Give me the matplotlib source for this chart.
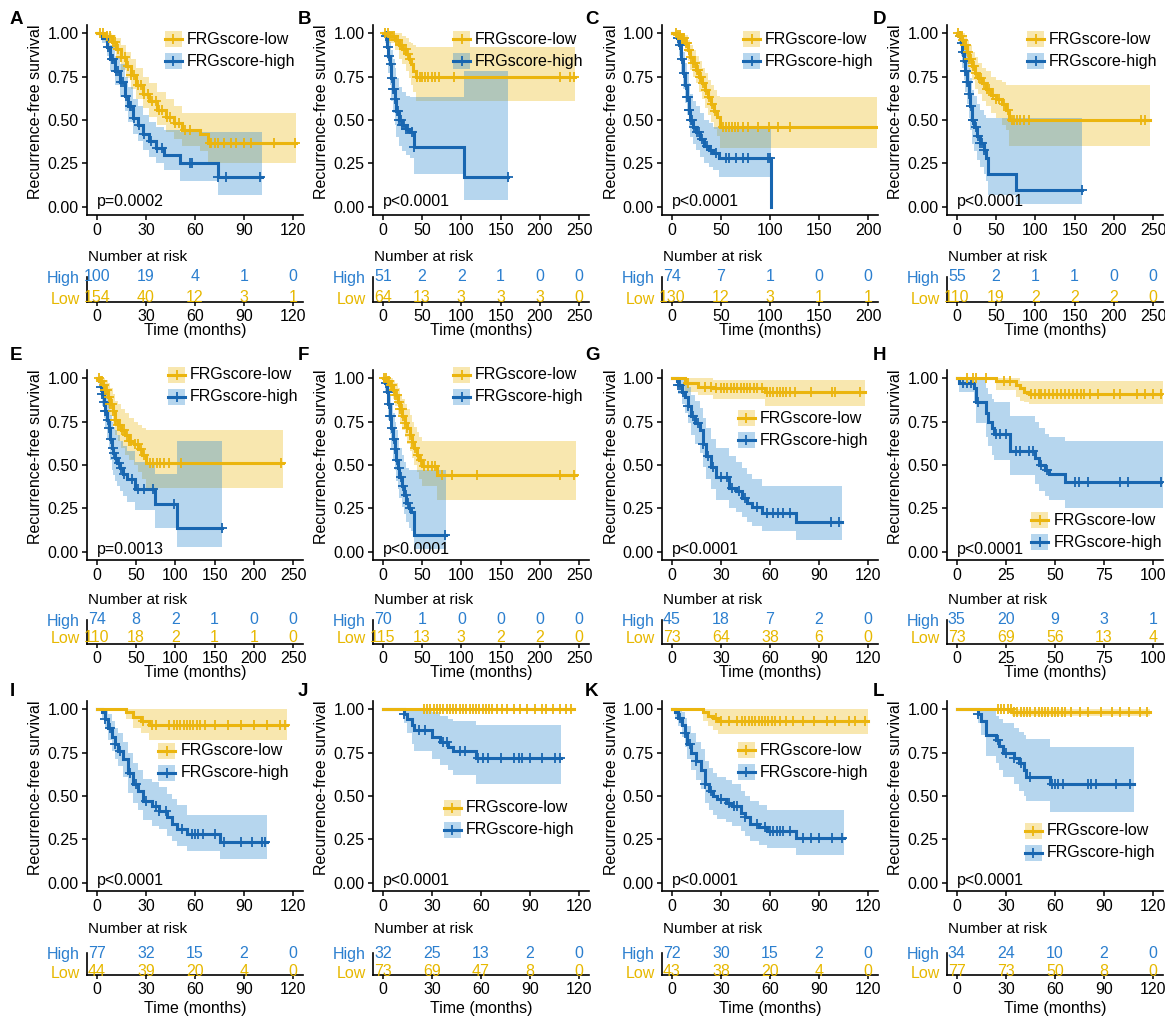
import numpy as np
import matplotlib.pyplot as plt
from matplotlib.patches import Rectangle

plt.rcParams['font.family'] = ['Liberation Sans', 'DejaVu Sans']

# ---------------- data ----------------
# panel A
A_breaks = [0, 30, 60, 90, 120]
A_low_t = [0, 5, 9, 12, 15, 18, 21, 24, 28, 32, 37, 42, 47, 52, 63, 68, 122]
A_low_s = [1.0, 0.98, 0.95, 0.91, 0.86, 0.81, 0.76, 0.70, 0.65, 0.61, 0.56, 0.52, 0.48, 0.44, 0.42, 0.365, 0.365]
A_low_hi = [1.0, 1.0, 0.99, 0.97, 0.93, 0.89, 0.85, 0.80, 0.75, 0.71, 0.66, 0.62, 0.58, 0.54, 0.54, 0.54, 0.54]
A_low_lo = [1.0, 0.95, 0.91, 0.85, 0.79, 0.74, 0.68, 0.62, 0.57, 0.52, 0.47, 0.43, 0.39, 0.35, 0.32, 0.25, 0.25]
A_low_cens = [2, 4, 6, 8, 10, 11, 13, 15, 17, 19, 21, 23, 25, 27, 29, 31, 34, 36, 38, 40, 43, 45, 48, 50,
              54, 57, 69, 70, 72, 74, 78, 82, 85, 90, 94, 108, 121]
A_high_t = [0, 3, 6, 8, 11, 14, 17, 19, 22, 25, 28, 32, 36, 41, 51, 74, 101]
A_high_s = [1.0, 0.97, 0.92, 0.85, 0.78, 0.72, 0.64, 0.58, 0.51, 0.47, 0.42, 0.38, 0.34, 0.30, 0.25, 0.17, 0.17]
A_high_hi = [1.0, 1.0, 0.98, 0.93, 0.87, 0.82, 0.75, 0.69, 0.62, 0.58, 0.53, 0.49, 0.46, 0.44, 0.43, 0.43, 0.43]
A_high_lo = [1.0, 0.94, 0.87, 0.78, 0.70, 0.63, 0.55, 0.49, 0.42, 0.38, 0.33, 0.29, 0.25, 0.21, 0.15, 0.07, 0.07]
A_high_cens = [7, 9, 10, 12, 13, 15, 16, 18, 20, 21, 23, 26, 29, 33, 37, 40, 57, 58, 74, 79, 100]
A_risk_high = [100, 19, 4, 1, 0]
A_risk_low = [154, 40, 12, 3, 1]
A_pval = 'p=0.0002'

# panel B
B_breaks = [0, 50, 100, 150, 200, 250]
B_low_t = [0, 8, 15, 20, 25, 30, 33, 36, 39, 42, 245]
B_low_s = [1.0, 0.98, 0.96, 0.93, 0.91, 0.88, 0.85, 0.82, 0.78, 0.75, 0.75]
B_low_hi = [1.0, 1.0, 1.0, 1.0, 0.98, 0.97, 0.95, 0.94, 0.93, 0.92, 0.92]
B_low_lo = [1.0, 0.94, 0.90, 0.85, 0.82, 0.78, 0.74, 0.70, 0.66, 0.61, 0.61]
B_low_cens = [3, 6, 9, 12, 14, 17, 19, 22, 24, 27, 29, 32, 35, 44, 47, 50, 54, 58, 62, 66, 72, 90, 225, 238, 244]
B_high_t = [0, 3, 5, 7, 9, 11, 13, 15, 17, 20, 24, 29, 35, 40, 103, 160]
B_high_s = [1.0, 0.98, 0.92, 0.87, 0.82, 0.74, 0.68, 0.62, 0.55, 0.50, 0.47, 0.45, 0.43, 0.345, 0.17, 0.17]
B_high_hi = [1.0, 1.0, 1.0, 0.98, 0.95, 0.90, 0.85, 0.80, 0.74, 0.69, 0.66, 0.64, 0.63, 0.63, 0.78, 0.78]
B_high_lo = [1.0, 0.94, 0.85, 0.77, 0.70, 0.61, 0.54, 0.47, 0.40, 0.35, 0.32, 0.30, 0.28, 0.19, 0.04, 0.04]
B_high_cens = [4, 6, 8, 10, 12, 13, 14, 16, 18, 19, 21, 23, 25, 27, 30, 32, 37, 40, 160]
B_risk_high = [51, 2, 2, 1, 0, 0]
B_risk_low = [64, 13, 3, 3, 3, 0]
B_pval = 'p<0.0001'

# panel C
C_breaks = [0, 50, 100, 150, 200]
C_low_t = [0, 5, 9, 13, 16, 19, 22, 25, 28, 31, 34, 37, 40, 43, 46, 49, 209]
C_low_s = [1.0, 0.99, 0.97, 0.94, 0.90, 0.86, 0.83, 0.79, 0.75, 0.71, 0.67, 0.63, 0.59, 0.55, 0.52, 0.46, 0.46]
C_low_hi = [1.0, 1.0, 1.0, 0.99, 0.96, 0.93, 0.90, 0.87, 0.84, 0.80, 0.77, 0.73, 0.70, 0.67, 0.64, 0.63, 0.63]
C_low_lo = [1.0, 0.97, 0.94, 0.89, 0.84, 0.79, 0.75, 0.71, 0.66, 0.62, 0.57, 0.53, 0.49, 0.45, 0.41, 0.34, 0.34]
C_low_cens = [4, 6, 8, 10, 11, 12, 14, 15, 17, 18, 20, 22, 24, 26, 27, 29, 30, 32, 35, 38, 41, 44, 52, 55,
              58, 61, 64, 67, 72, 78, 88, 99, 108, 120]
C_high_t = [0, 5, 7, 9, 11, 13, 15, 17, 19, 22, 25, 29, 33, 38, 42, 48, 101.5]
C_high_s = [1.0, 0.97, 0.93, 0.85, 0.77, 0.70, 0.63, 0.56, 0.50, 0.46, 0.43, 0.39, 0.35, 0.33, 0.31, 0.28, 0.0]
C_high_hi = [1.0, 1.0, 1.0, 0.95, 0.89, 0.83, 0.77, 0.71, 0.65, 0.61, 0.58, 0.54, 0.50, 0.48, 0.46, 0.45, 0.0]
C_high_lo = [1.0, 0.93, 0.87, 0.77, 0.68, 0.60, 0.53, 0.46, 0.40, 0.36, 0.33, 0.29, 0.25, 0.23, 0.21, 0.17, 0.0]
C_high_cens = [6, 8, 10, 12, 14, 15, 16, 17, 18, 20, 21, 23, 26, 28, 31, 36, 40, 45, 55, 58, 65, 72, 78, 98, 100]
C_risk_high = [74, 7, 1, 0, 0]
C_risk_low = [130, 12, 3, 1, 1]
C_pval = 'p<0.0001'

# panel D
D_breaks = [0, 50, 100, 150, 200, 250]
D_low_t = [0, 4, 7, 10, 13, 16, 19, 23, 27, 32, 37, 43, 50, 57, 62, 67, 246]
D_low_s = [1.0, 0.98, 0.96, 0.93, 0.89, 0.85, 0.81, 0.77, 0.74, 0.71, 0.68, 0.645, 0.62, 0.59, 0.56, 0.50, 0.50]
D_low_hi = [1.0, 1.0, 1.0, 0.99, 0.96, 0.93, 0.89, 0.86, 0.83, 0.80, 0.78, 0.75, 0.73, 0.72, 0.70, 0.70, 0.70]
D_low_lo = [1.0, 0.95, 0.92, 0.87, 0.82, 0.77, 0.73, 0.68, 0.65, 0.61, 0.58, 0.54, 0.51, 0.47, 0.44, 0.35, 0.35]
D_low_cens = [2, 4, 6, 8, 10, 12, 14, 16, 18, 20, 22, 25, 28, 31, 34, 38, 41, 46, 50, 54, 60, 65, 70, 73,
              77, 81, 86, 92, 235, 240]
D_high_t = [0, 3, 5, 7, 9, 11, 13, 15, 17, 19, 22, 26, 30, 34, 37, 40, 75, 160]
D_high_s = [1.0, 0.98, 0.94, 0.89, 0.84, 0.78, 0.72, 0.65, 0.58, 0.50, 0.46, 0.41, 0.37, 0.33, 0.28, 0.19, 0.095, 0.095]
D_high_hi = [1.0, 1.0, 1.0, 0.98, 0.95, 0.91, 0.86, 0.80, 0.74, 0.67, 0.64, 0.59, 0.56, 0.53, 0.51, 0.51, 0.51, 0.51]
D_high_lo = [1.0, 0.94, 0.87, 0.80, 0.73, 0.66, 0.59, 0.51, 0.44, 0.36, 0.32, 0.27, 0.23, 0.19, 0.15, 0.07, 0.02, 0.02]
D_high_cens = [4, 6, 8, 10, 11, 12, 13, 14, 16, 18, 20, 21, 24, 27, 30, 32, 35, 160]
D_risk_high = [55, 2, 1, 1, 0, 0]
D_risk_low = [110, 19, 2, 2, 2, 0]
D_pval = 'p<0.0001'

# panel E
E_breaks = [0, 50, 100, 150, 200, 250]
E_low_t = [0, 4, 8, 11, 14, 17, 20, 23, 27, 31, 36, 41, 47, 53, 58, 63, 237]
E_low_s = [1.0, 0.98, 0.96, 0.93, 0.89, 0.85, 0.81, 0.76, 0.73, 0.70, 0.67, 0.64, 0.62, 0.59, 0.56, 0.51, 0.51]
E_low_hi = [1.0, 1.0, 1.0, 0.99, 0.97, 0.94, 0.91, 0.87, 0.85, 0.82, 0.80, 0.77, 0.75, 0.73, 0.71, 0.70, 0.70]
E_low_lo = [1.0, 0.95, 0.92, 0.88, 0.83, 0.78, 0.73, 0.67, 0.64, 0.60, 0.56, 0.53, 0.50, 0.46, 0.42, 0.37, 0.37]
E_low_cens = [3, 5, 7, 9, 11, 13, 15, 17, 19, 21, 23, 25, 27, 29, 32, 35, 38, 41, 44, 48, 52, 56, 60, 68,
              72, 76, 80, 85, 92, 107, 235]
E_high_t = [0, 3, 5, 7, 9, 11, 13, 15, 17, 19, 21, 23, 26, 29, 33, 38, 48, 74, 102, 160]
E_high_s = [1.0, 0.98, 0.95, 0.91, 0.86, 0.81, 0.76, 0.71, 0.65, 0.60, 0.57, 0.54, 0.51, 0.48, 0.45, 0.42, 0.36, 0.275, 0.14, 0.14]
E_high_hi = [1.0, 1.0, 1.0, 0.99, 0.96, 0.92, 0.88, 0.84, 0.79, 0.75, 0.72, 0.70, 0.67, 0.64, 0.61, 0.58, 0.52, 0.45, 0.64, 0.64]
E_high_lo = [1.0, 0.94, 0.89, 0.84, 0.77, 0.71, 0.65, 0.59, 0.53, 0.47, 0.44, 0.41, 0.38, 0.35, 0.32, 0.29, 0.24, 0.14, 0.03, 0.03]
E_high_cens = [5, 7, 9, 11, 12, 14, 16, 18, 20, 22, 25, 28, 31, 35, 45, 52, 60, 72, 98, 160]
E_risk_high = [74, 8, 2, 1, 0, 0]
E_risk_low = [110, 18, 2, 1, 1, 0]
E_pval = 'p=0.0013'

# panel F
F_breaks = [0, 50, 100, 150, 200, 250]
F_low_t = [0, 5, 9, 13, 16, 19, 22, 25, 28, 31, 34, 37, 40, 43, 46, 50, 69, 246]
F_low_s = [1.0, 0.98, 0.96, 0.93, 0.90, 0.86, 0.82, 0.78, 0.74, 0.71, 0.67, 0.63, 0.60, 0.56, 0.53, 0.495, 0.44, 0.44]
F_low_hi = [1.0, 1.0, 1.0, 0.99, 0.97, 0.94, 0.91, 0.88, 0.85, 0.82, 0.79, 0.75, 0.72, 0.69, 0.66, 0.64, 0.64, 0.64]
F_low_lo = [1.0, 0.95, 0.92, 0.88, 0.84, 0.79, 0.75, 0.70, 0.66, 0.62, 0.58, 0.54, 0.50, 0.46, 0.42, 0.38, 0.30, 0.30]
F_low_cens = [2, 4, 6, 8, 10, 12, 14, 16, 18, 20, 22, 24, 26, 28, 31, 34, 37, 41, 45, 49, 53, 57, 62, 66,
              75, 88, 120, 225, 244]
F_high_t = [0, 3, 5, 7, 9, 11, 13, 15, 17, 19, 21, 24, 27, 30, 33, 36, 40, 80]
F_high_s = [1.0, 0.97, 0.92, 0.85, 0.78, 0.71, 0.65, 0.59, 0.53, 0.48, 0.43, 0.38, 0.33, 0.28, 0.25, 0.23, 0.095, 0.095]
F_high_hi = [1.0, 1.0, 1.0, 0.96, 0.91, 0.85, 0.80, 0.75, 0.70, 0.65, 0.60, 0.56, 0.52, 0.48, 0.47, 0.47, 0.47, 0.47]
F_high_lo = [1.0, 0.92, 0.85, 0.76, 0.68, 0.60, 0.53, 0.47, 0.41, 0.36, 0.31, 0.26, 0.22, 0.17, 0.14, 0.12, 0.02, 0.02]
F_high_cens = [4, 6, 8, 9, 10, 12, 14, 16, 18, 20, 23, 26, 29, 32, 35, 79]
F_risk_high = [70, 1, 0, 0, 0, 0]
F_risk_low = [115, 13, 3, 2, 2, 0]
F_pval = 'p<0.0001'

# panel G
G_breaks = [0, 30, 60, 90, 120]
G_low_t = [0, 8, 16, 25, 57, 118]
G_low_s = [1.0, 0.97, 0.95, 0.94, 0.92, 0.92]
G_low_hi = [1.0, 1.0, 1.0, 0.99, 0.99, 0.99]
G_low_lo = [1.0, 0.92, 0.90, 0.88, 0.84, 0.84]
G_low_cens = [10, 20, 24, 27, 30, 32, 34, 36, 38, 40, 42, 44, 46, 48, 50, 52, 55, 58, 60, 62, 64, 66, 68,
              70, 72, 75, 85, 98, 100, 115]
G_high_t = [0, 3, 4, 6, 8, 10, 12, 14, 17, 19, 21, 24, 27, 35, 39, 43, 46, 49, 55, 76, 104]
G_high_s = [1.0, 0.98, 0.96, 0.92, 0.89, 0.84, 0.78, 0.74, 0.70, 0.62, 0.55, 0.49, 0.43, 0.37, 0.35, 0.31, 0.28, 0.26, 0.225, 0.175, 0.175]
G_high_hi = [1.0, 1.0, 1.0, 1.0, 0.98, 0.95, 0.90, 0.87, 0.83, 0.77, 0.71, 0.65, 0.60, 0.55, 0.52, 0.48, 0.45, 0.42, 0.38, 0.38, 0.38]
G_high_lo = [1.0, 0.94, 0.91, 0.85, 0.80, 0.74, 0.67, 0.62, 0.57, 0.49, 0.42, 0.36, 0.30, 0.25, 0.23, 0.20, 0.17, 0.15, 0.12, 0.07, 0.07]
G_high_cens = [4, 5, 7, 10, 13, 16, 19, 22, 25, 30, 34, 37, 41, 45, 52, 58, 62, 65, 68, 72, 97, 102]
G_risk_high = [45, 18, 7, 2, 0]
G_risk_low = [73, 64, 38, 6, 0]
G_pval = 'p<0.0001'

# panel H
H_breaks = [0, 25, 50, 75, 100]
H_low_t = [0, 20, 30, 32, 34, 37, 105]
H_low_s = [1.0, 0.98, 0.96, 0.94, 0.92, 0.91, 0.91]
H_low_hi = [1.0, 1.0, 1.0, 0.98, 0.98, 0.98, 0.98]
H_low_lo = [1.0, 0.93, 0.89, 0.87, 0.86, 0.85, 0.85]
H_low_cens = [5, 8, 10, 15, 24, 27, 38, 40, 42, 43, 45, 47, 49, 51, 53, 55, 57, 59, 61, 63, 65, 68, 72,
              80, 83, 92, 96, 100, 104]
H_high_t = [0, 1, 9, 10, 15, 16, 18, 19, 27, 40, 42, 45, 47, 55, 105]
H_high_s = [1.0, 0.97, 0.94, 0.86, 0.80, 0.75, 0.71, 0.68, 0.58, 0.54, 0.50, 0.47, 0.45, 0.40, 0.40]
H_high_hi = [1.0, 1.0, 1.0, 1.0, 0.94, 0.91, 0.88, 0.86, 0.78, 0.75, 0.71, 0.68, 0.66, 0.64, 0.64]
H_high_lo = [1.0, 0.92, 0.87, 0.74, 0.66, 0.61, 0.56, 0.53, 0.44, 0.39, 0.35, 0.32, 0.30, 0.25, 0.25]
H_high_cens = [3, 5, 7, 11, 20, 22, 25, 30, 32, 37, 39, 43, 46, 60, 62, 67, 83, 87, 104]
H_risk_high = [35, 20, 9, 3, 1]
H_risk_low = [73, 69, 56, 13, 4]
H_pval = 'p<0.0001'

# panel I
I_breaks = [0, 30, 60, 90, 120]
I_low_t = [0, 18, 22, 27, 32, 116]
I_low_s = [1.0, 0.98, 0.955, 0.93, 0.91, 0.91]
I_low_hi = [1.0, 1.0, 1.0, 1.0, 1.0, 1.0]
I_low_lo = [1.0, 0.94, 0.89, 0.86, 0.82, 0.82]
I_low_cens = [28, 34, 36, 44, 47, 49, 51, 53, 55, 57, 59, 61, 63, 66, 72, 80, 88, 96, 104, 112, 115]
I_high_t = [0, 3, 5, 7, 9, 11, 13, 16, 19, 22, 25, 28, 34, 38, 43, 46, 49, 55, 75, 104]
I_high_s = [1.0, 0.98, 0.94, 0.89, 0.84, 0.80, 0.76, 0.71, 0.63, 0.57, 0.53, 0.47, 0.445, 0.415, 0.38, 0.34, 0.31, 0.28, 0.235, 0.235]
I_high_hi = [1.0, 1.0, 1.0, 0.97, 0.93, 0.89, 0.86, 0.81, 0.75, 0.69, 0.65, 0.60, 0.58, 0.55, 0.51, 0.48, 0.45, 0.39, 0.39, 0.39]
I_high_lo = [1.0, 0.95, 0.89, 0.82, 0.76, 0.71, 0.67, 0.61, 0.52, 0.46, 0.42, 0.36, 0.33, 0.31, 0.27, 0.24, 0.21, 0.185, 0.14, 0.14]
I_high_cens = [5, 8, 11, 14, 20, 24, 30, 36, 38, 42, 52, 58, 60, 62, 65, 72, 78, 88, 95, 101, 103]
I_risk_high = [77, 32, 15, 2, 0]
I_risk_low = [44, 39, 20, 4, 0]
I_pval = 'p<0.0001'

# panel J
J_breaks = [0, 30, 60, 90, 120]
J_low_t = [0, 117]
J_low_s = [1.0, 1.0]
J_low_hi = [1.0, 1.0]
J_low_lo = [1.0, 1.0]
J_low_cens = [25, 27, 29, 31, 33, 35, 37, 39, 41, 43, 45, 47, 49, 51, 53, 55, 57, 59, 61, 63, 65, 67, 70,
              73, 76, 80, 84, 88, 93, 97, 100, 104, 108, 112, 115]
J_high_t = [0, 13, 15, 18, 19, 30, 35, 40, 43, 57, 109]
J_high_s = [1.0, 0.97, 0.94, 0.91, 0.88, 0.84, 0.81, 0.78, 0.76, 0.72, 0.72]
J_high_hi = [1.0, 1.0, 1.0, 1.0, 1.0, 0.98, 0.96, 0.94, 0.93, 0.91, 0.91]
J_high_lo = [1.0, 0.92, 0.86, 0.80, 0.76, 0.71, 0.68, 0.65, 0.62, 0.57, 0.57]
J_high_cens = [13, 22, 26, 37, 39, 47, 50, 58, 61, 64, 72, 80, 83, 85, 90, 97, 105, 108]
J_risk_high = [32, 25, 13, 2, 0]
J_risk_low = [73, 69, 47, 8, 0]
J_pval = 'p<0.0001'

# panel K
K_breaks = [0, 30, 60, 90, 120]
K_low_t = [0, 19, 22, 25, 28, 120]
K_low_s = [1.0, 0.98, 0.96, 0.95, 0.93, 0.93]
K_low_hi = [1.0, 1.0, 1.0, 1.0, 1.0, 1.0]
K_low_lo = [1.0, 0.93, 0.90, 0.88, 0.855, 0.855]
K_low_cens = [27, 30, 35, 40, 43, 45, 47, 49, 51, 53, 55, 57, 59, 61, 63, 66, 70, 74, 80, 87, 95, 100, 108, 112, 118]
K_high_t = [0, 2, 4, 6, 8, 9.5, 12, 15, 18, 20, 23, 25, 27.5, 33, 37, 42, 45, 48, 53, 58, 76, 105]
K_high_s = [1.0, 0.98, 0.95, 0.91, 0.86, 0.80, 0.75, 0.70, 0.65, 0.57, 0.53, 0.50, 0.48, 0.46, 0.44, 0.405, 0.38, 0.34, 0.32, 0.30, 0.26, 0.26]
K_high_hi = [1.0, 1.0, 1.0, 0.98, 0.95, 0.90, 0.86, 0.81, 0.77, 0.70, 0.66, 0.63, 0.61, 0.59, 0.57, 0.53, 0.50, 0.47, 0.45, 0.42, 0.42, 0.42]
K_high_lo = [1.0, 0.95, 0.90, 0.84, 0.78, 0.71, 0.65, 0.59, 0.54, 0.46, 0.42, 0.39, 0.37, 0.35, 0.33, 0.30, 0.27, 0.24, 0.22, 0.20, 0.16, 0.16]
K_high_cens = [5, 8, 11, 15, 20, 24, 30, 35, 38, 40, 45, 52, 57, 60, 62, 64, 66, 68, 72, 80, 85, 90, 98, 104]
K_risk_high = [72, 30, 15, 2, 0]
K_risk_low = [43, 38, 20, 4, 0]
K_pval = 'p<0.0001'

# panel L
L_breaks = [0, 30, 60, 90, 120]
L_low_t = [0, 34, 118]
L_low_s = [1.0, 0.985, 0.985]
L_low_hi = [1.0, 1.0, 1.0]
L_low_lo = [1.0, 0.96, 0.96]
L_low_cens = [25, 27, 29, 31, 33, 35, 37, 39, 41, 43, 45, 48, 50, 52, 54, 56, 58, 60, 62, 64, 66, 70, 75,
              80, 88, 95, 100, 105, 112, 116]
L_high_t = [0, 13, 15, 18, 24, 26, 28, 35, 38, 41, 42, 57, 108]
L_high_s = [1.0, 0.97, 0.93, 0.85, 0.82, 0.79, 0.75, 0.72, 0.69, 0.65, 0.61, 0.57, 0.57]
L_high_hi = [1.0, 1.0, 1.0, 1.0, 0.96, 0.94, 0.92, 0.89, 0.87, 0.85, 0.83, 0.78, 0.78]
L_high_lo = [1.0, 0.92, 0.85, 0.73, 0.69, 0.65, 0.61, 0.57, 0.53, 0.50, 0.47, 0.41, 0.41]
L_high_cens = [13, 25, 30, 35, 39, 45, 58, 60, 62, 65, 80, 82, 85, 97, 106]
L_risk_high = [34, 24, 10, 2, 0]
L_risk_low = [77, 73, 50, 8, 0]
L_pval = 'p<0.0001'

LETTERS = ['A', 'B', 'C', 'D', 'E', 'F', 'G', 'H', 'I', 'J', 'K', 'L']
LEGEND_LABELS = ['FRGscore-low', 'FRGscore-high']
RISK_LABELS = ['High', 'Low']

# ---------------- styling / layout ----------------
W, H = 1165, 1018
LOW_LINE, HIGH_LINE = '#EBB50E', '#1866B0'
LOW_FILL, HIGH_FILL = '#EDBB1A', '#2E8BD0'
LOW_TXT, HIGH_TXT = '#E7B800', '#2B7FCF'

COL_LEFT = [87, 373, 662, 947]
COL_LETTER = [10, 298, 585, 873]
ROW_TOP = [25, 370, 701]
ROW_TAB = [(277, 302, 276.7, 297.5), (620, 644, 618.5, 637.0), (953, 975, 950.5, 971.5)]
ROW_NAR = [257, 600, 929]
ROW_TIME = [331, 673, 1008]
ROW_LETTER = [20, 355, 692]
ROW_PY = [0.03, 0.017, 0.012]
AX_W, AX_H = 216, 190

# legend position (axes fraction): x of key centre, y of first entry
LEG_POS = {'A': (0.40, 0.926), 'B': (0.41, 0.926), 'C': (0.415, 0.926), 'D': (0.41, 0.926),
           'E': (0.415, 0.974), 'F': (0.41, 0.974), 'G': (0.39, 0.747), 'H': (0.43, 0.21),
           'I': (0.37, 0.737), 'J': (0.366, 0.437), 'K': (0.39, 0.742), 'L': (0.40, 0.316)}


def px_axes(fig, left, top, width, height):
    return fig.add_axes([left / W, 1 - (top + height) / H, width / W, height / H])


def draw_band(ax, t, lo, hi, fill):
    ax.fill_between(t, lo, hi, step='post', color=fill, alpha=0.35, lw=0)


def draw_curve(ax, t, s, cens, line):
    t = np.asarray(t, float)
    s = np.asarray(s, float)
    ax.step(t, s, where='post', color=line, lw=2.2, solid_joinstyle='miter')
    idx = np.searchsorted(t, cens, side='right') - 1
    idx = np.clip(idx, 0, len(s) - 1)
    ax.plot(cens, s[idx], ls='none', marker='+', ms=7, mew=1.3, color=line)


def draw_key(ax, xf, yf, line, fill, label):
    w, h = 17 / AX_W, 16 / AX_H
    ax.add_patch(Rectangle((xf - w / 2, yf - h / 2), w, h, transform=ax.transAxes,
                           facecolor=fill, alpha=0.35, lw=0, clip_on=False))
    ax.plot([xf - w / 2, xf + w / 2], [yf, yf], transform=ax.transAxes, color=line, lw=2.2,
            clip_on=False)
    ax.plot([xf], [yf], transform=ax.transAxes, marker='+', ms=7, mew=1.3, color=line, clip_on=False)
    ax.text(xf + w / 2 + 5 / AX_W, yf, label, transform=ax.transAxes, fontsize=11.5,
            ha='left', va='center')


fig = plt.figure(figsize=(W / 100, H / 100), dpi=100)

for k, L in enumerate(LETTERS):
    r, c = divmod(k, 4)
    g = globals()
    breaks = g[L + '_breaks']
    xmax = breaks[-1]
    xlim = (-0.05 * xmax, 1.05 * xmax)
    left = COL_LEFT[c]
    top = ROW_TOP[r]

    ax = px_axes(fig, left, top, AX_W, AX_H)
    draw_band(ax, g[L + '_low_t'], g[L + '_low_lo'], g[L + '_low_hi'], LOW_FILL)
    draw_band(ax, g[L + '_high_t'], g[L + '_high_lo'], g[L + '_high_hi'], HIGH_FILL)
    draw_curve(ax, g[L + '_high_t'], g[L + '_high_s'], g[L + '_high_cens'], HIGH_LINE)
    draw_curve(ax, g[L + '_low_t'], g[L + '_low_s'], g[L + '_low_cens'], LOW_LINE)
    ax.set_xlim(*xlim)
    ax.set_ylim(-0.046, 1.046)
    ax.set_xticks(breaks)
    ax.set_yticks([0, 0.25, 0.5, 0.75, 1.0])
    ax.set_yticklabels(['0.00', '0.25', '0.50', '0.75', '1.00'])
    for sp in ['top', 'right']:
        ax.spines[sp].set_visible(False)
    for sp in ['left', 'bottom']:
        ax.spines[sp].set_linewidth(1.2)
    ax.tick_params(labelsize=11.5, length=3.5, width=1.1, pad=2.5, colors='black')
    ax.text(0, ROW_PY[r], g[L + '_pval'], fontsize=11.5, ha='left', va='center')

    lx, ly = LEG_POS[L]
    draw_key(ax, lx, ly, LOW_LINE, LOW_FILL, LEGEND_LABELS[0])
    draw_key(ax, lx, ly - 22 / AX_H, HIGH_LINE, HIGH_FILL, LEGEND_LABELS[1])

    fig.text((left - 51) / W, 1 - (top + 87) / H, 'Recurrence-free survival', rotation=90,
             fontsize=11.5, ha='center', va='center')
    fig.text(COL_LETTER[c] / W, 1 - ROW_LETTER[r] / H, L, fontsize=13.5, fontweight='bold',
             ha='left', va='center')

    # risk table
    t_top, t_bot, y_high, y_low = ROW_TAB[r]
    d = y_low - y_high
    tab = px_axes(fig, left, t_top, AX_W, t_bot - t_top)
    tab.set_xlim(*xlim)
    tab.set_ylim(1 + (y_low - t_bot) / d, 1 + (y_low - t_top) / d)
    for x, n in zip(breaks, g[L + '_risk_high']):
        tab.text(x, 2, str(n), color=HIGH_TXT, fontsize=11.5, ha='center', va='center', clip_on=False)
    for x, n in zip(breaks, g[L + '_risk_low']):
        tab.text(x, 1, str(n), color=LOW_TXT, fontsize=11.5, ha='center', va='center', clip_on=False)
    tab.set_xticks(breaks)
    tab.set_yticks([2, 1])
    tab.set_yticklabels(RISK_LABELS)
    tab.get_yticklabels()[0].set_color(HIGH_TXT)
    tab.get_yticklabels()[1].set_color(LOW_TXT)
    for sp in ['top', 'right']:
        tab.spines[sp].set_visible(False)
    for sp in ['left', 'bottom']:
        tab.spines[sp].set_linewidth(1.2)
    tab.tick_params(axis='x', labelsize=11.5, length=3, width=1.1, pad=2)
    tab.tick_params(axis='y', labelsize=11.5, length=0, pad=5)
    fig.text((left + 1) / W, 1 - ROW_NAR[r] / H, 'Number at risk', fontsize=11,
             ha='left', va='center')
    fig.text((left + AX_W / 2) / W, 1 - ROW_TIME[r] / H, 'Time (months)', fontsize=11.5,
             ha='center', va='center')

fig.savefig('out.png', dpi=100)
